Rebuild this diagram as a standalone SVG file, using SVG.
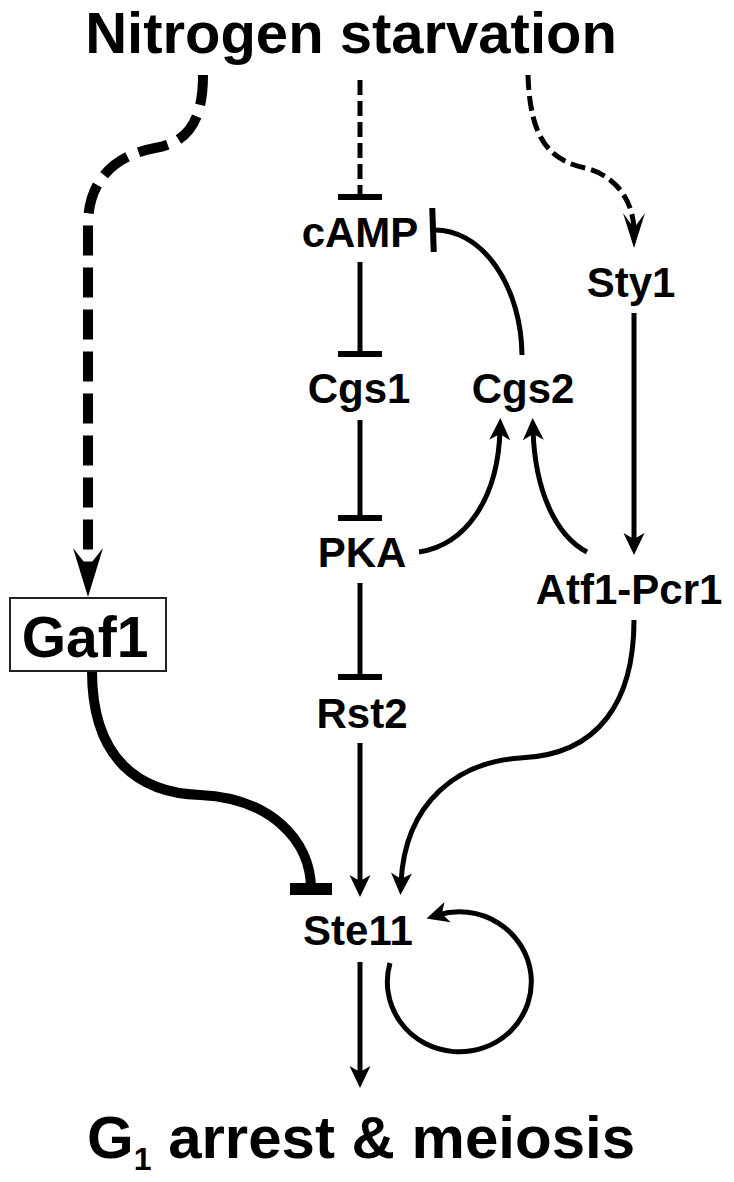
<svg xmlns="http://www.w3.org/2000/svg" width="734" height="1182" viewBox="0 0 734 1182">
<style>
.lbl{font-family:"Liberation Sans",Arial,Helvetica,sans-serif;font-weight:bold;fill:#000;text-anchor:middle}
.c{fill:none;stroke:#000;stroke-width:5}
.dl{fill:none;stroke:#000;stroke-width:10;stroke-dasharray:30 12}
.ds{fill:none;stroke:#000;stroke-width:5;stroke-dasharray:15 6}
.thick{fill:none;stroke:#000;stroke-width:10}
</style>
<defs>
<marker id="arr" markerUnits="userSpaceOnUse" orient="auto" refX="0" refY="0" markerWidth="60" markerHeight="60" viewBox="-30 -30 60 60" overflow="visible">
<path d="M12,0 L-10,-10.5 L-4,0 L-10,10.5 Z" fill="#000"/>
</marker>
<marker id="arrM" markerUnits="userSpaceOnUse" orient="auto" refX="0" refY="0" markerWidth="80" markerHeight="80" viewBox="-40 -40 80 80" overflow="visible">
<path d="M16,0 L-19,-11 L-4,0 L-19,11 Z" fill="#000"/>
</marker>
<marker id="arrL" markerUnits="userSpaceOnUse" orient="auto" refX="0" refY="0" markerWidth="100" markerHeight="100" viewBox="-50 -50 100 100" overflow="visible">
<path d="M17,0 L-32,-15 L-13,0 L-32,15 Z" fill="#000"/>
</marker>
<marker id="tee" markerUnits="userSpaceOnUse" orient="auto" refX="0" refY="0" markerWidth="60" markerHeight="60" viewBox="-30 -30 60 60" overflow="visible">
<path d="M0,-22 V22" stroke="#000" stroke-width="6" fill="none"/>
</marker>
<marker id="teeL" markerUnits="userSpaceOnUse" orient="auto" refX="0" refY="0" markerWidth="60" markerHeight="60" viewBox="-30 -30 60 60" overflow="visible">
<path d="M0,-21 V21" stroke="#000" stroke-width="12" fill="none"/>
</marker>
</defs>
<rect width="734" height="1182" fill="#fff"/>
<g id="connectors">
<path class="dl" d="M203,75 C203,125 185,143 155,148 C115,155 88,180 88,225 V580" marker-end="url(#arrL)"/>
<path class="ds" d="M360,80 V197" marker-end="url(#tee)"/>
<path class="ds" d="M528,75 C530,140 550,160 585,168 C615,175 634,200 634,232" marker-end="url(#arrM)"/>
<path class="c" d="M360,262 V354" marker-end="url(#tee)"/>
<path class="c" d="M360,420 V518" marker-end="url(#tee)"/>
<path class="c" d="M360,583 V677" marker-end="url(#tee)"/>
<path class="c" d="M360,743 V885" marker-end="url(#arr)"/>
<path class="c" d="M360,962 V1076" marker-end="url(#arr)"/>
<path class="c" d="M634,313 V543" marker-end="url(#arr)"/>
<path class="c" d="M522,355 A87,127 0 0 0 433,230" marker-end="url(#tee)"/>
<path class="c" d="M419,552 C465,545 498,500 500,430" marker-end="url(#arr)"/>
<path class="c" d="M587,552 C555,535 535,490 533,430" marker-end="url(#arr)"/>
<path class="c" d="M634,620 C634,700 600,755 520,758 C460,762 405,800 401,883" marker-end="url(#arr)"/>
<path class="thick" d="M92,671 C92,760 140,793 200,795 C270,798 311,840 311,889" marker-end="url(#teeL)"/>
<path class="c" d="M390,963 A72,70 0 1 0 438,915" marker-end="url(#arr)"/>
</g>
<g id="nitrogen-starvation"><text class="lbl" x="351" y="53" font-size="58">Nitrogen starvation</text></g>
<g id="cAMP"><text class="lbl" x="360" y="247" font-size="42">cAMP</text></g>
<g id="Sty1"><text class="lbl" x="631" y="297" font-size="42">Sty1</text></g>
<g id="Cgs1"><text class="lbl" x="359" y="403" font-size="42">Cgs1</text></g>
<g id="Cgs2"><text class="lbl" x="523" y="403" font-size="42">Cgs2</text></g>
<g id="PKA"><text class="lbl" x="362" y="567" font-size="42">PKA</text></g>
<g id="Atf1-Pcr1"><text class="lbl" x="629" y="604" font-size="42">Atf1-Pcr1</text></g>
<g id="Gaf1"><rect x="10" y="598" width="156" height="73" fill="#fff" stroke="#222" stroke-width="2"/><text class="lbl" x="85" y="657" font-size="57">Gaf1</text></g>
<g id="Rst2"><text class="lbl" x="362" y="728" font-size="42">Rst2</text></g>
<g id="Ste11"><text class="lbl" x="358" y="945" font-size="42">Ste11</text></g>
<g id="g1-arrest-meiosis"><text class="lbl" x="87" y="1158" font-size="60" style="text-anchor:start">G<tspan font-size="32" dy="12">1</tspan><tspan dy="-12"> arrest &amp; meiosis</tspan></text></g>
</svg>
